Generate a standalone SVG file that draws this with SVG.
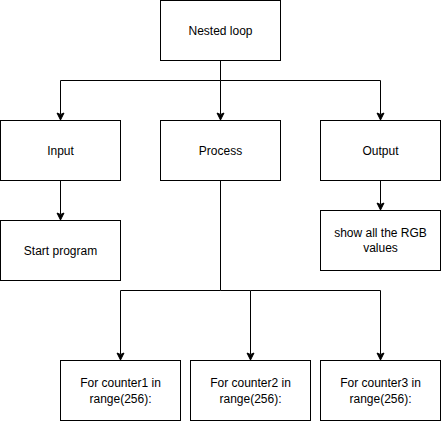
<svg xmlns="http://www.w3.org/2000/svg" width="441" height="421" viewBox="0 0 441 421">
<defs>
<style>
.box{fill:#fff;stroke:#000;stroke-width:1}
.t{font-family:"Liberation Sans",Arial,sans-serif;font-size:12px;fill:#000;text-anchor:middle}
.c{fill:none;stroke:#000;stroke-width:1}
</style>
<marker id="arr" markerUnits="userSpaceOnUse" markerWidth="10" markerHeight="10" viewBox="0 0 10 10" refX="5" refY="9" orient="auto-start-reverse">
<path d="M1.5,1.5 L5,3 L8.5,1.5 L5,9 Z" fill="#000" stroke="#000" stroke-width="1" transform="rotate(0)"/>
</marker>
</defs>
<rect width="441" height="421" fill="#fff"/>
<g id="connectors">
<path class="c" d="M220.5,60.5 V80.5 H60.5 V114"/>
<path class="c" d="M220.5,80.5 V114"/>
<path class="c" d="M220.5,80.5 H380.5 V114"/>
<path class="c" d="M60.5,180.5 V214"/>
<path class="c" d="M380.5,180.5 V204"/>
<path class="c" d="M220.5,180.5 V290.5 H120.5 V354"/>
<path class="c" d="M220.5,290.5 H250.5 V354"/>
<path class="c" d="M250.5,290.5 H380.5 V354"/>
<g fill="#000" stroke="#000" stroke-linejoin="miter">
<path d="M60.5,120 L57,113 L60.5,114.5 L64,113 Z"/>
<path d="M220.5,120 L217,113 L220.5,114.5 L224,113 Z"/>
<path d="M380.5,120 L377,113 L380.5,114.5 L384,113 Z"/>
<path d="M60.5,220 L57,213 L60.5,214.5 L64,213 Z"/>
<path d="M380.5,210 L377,203 L380.5,204.5 L384,203 Z"/>
<path d="M120.5,360 L117,353 L120.5,354.5 L124,353 Z"/>
<path d="M250.5,360 L247,353 L250.5,354.5 L254,353 Z"/>
<path d="M380.5,360 L377,353 L380.5,354.5 L384,353 Z"/>
</g>
</g>
<g id="nested-loop"><rect class="box" x="160.5" y="0.5" width="120" height="60"/><text class="t" x="220.5" y="34.5">Nested loop</text></g>
<g id="input"><rect class="box" x="0.5" y="120.5" width="120" height="60"/><text class="t" x="60.5" y="154.5">Input</text></g>
<g id="process"><rect class="box" x="160.5" y="120.5" width="120" height="60"/><text class="t" x="220.5" y="154.5">Process</text></g>
<g id="output"><rect class="box" x="320.5" y="120.5" width="120" height="60"/><text class="t" x="380.5" y="154.5">Output</text></g>
<g id="start-program"><rect class="box" x="0.5" y="220.5" width="120" height="60"/><text class="t" x="60.5" y="254.5">Start program</text></g>
<g id="show-rgb"><rect class="box" x="320.5" y="210.5" width="120" height="60"/><text class="t" x="380.5" y="237"><tspan x="380.5">show all the RGB</tspan><tspan x="380.5" dy="15">values</tspan></text></g>
<g id="counter1"><rect class="box" x="60.5" y="360.5" width="120" height="60"/><text class="t" x="120.5" y="386.5"><tspan x="120.5">For counter1 in</tspan><tspan x="120.5" dy="16">range(256):</tspan></text></g>
<g id="counter2"><rect class="box" x="190.5" y="360.5" width="120" height="60"/><text class="t" x="250.5" y="386.5"><tspan x="250.5">For counter2 in</tspan><tspan x="250.5" dy="16">range(256):</tspan></text></g>
<g id="counter3"><rect class="box" x="320.5" y="360.5" width="120" height="60"/><text class="t" x="380.5" y="386.5"><tspan x="380.5">For counter3 in</tspan><tspan x="380.5" dy="16">range(256):</tspan></text></g>
</svg>
